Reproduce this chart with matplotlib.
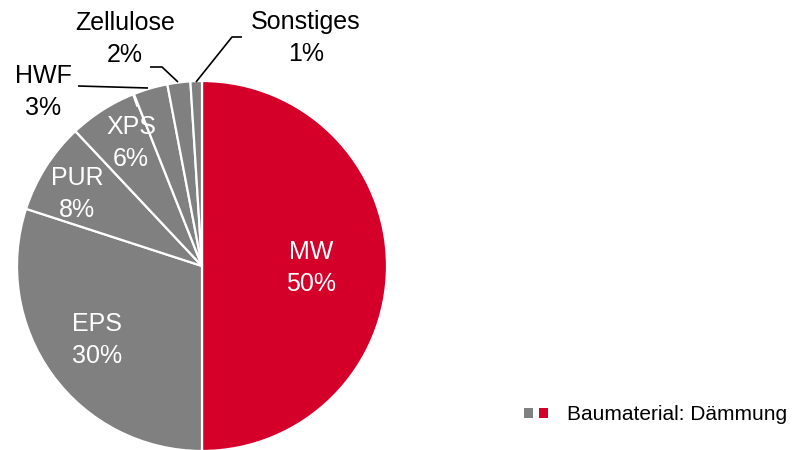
import matplotlib
matplotlib.use('Agg')
import matplotlib.pyplot as plt
from matplotlib.patches import Patch
from matplotlib.legend_handler import HandlerTuple

plt.rcParams['font.family'] = ['Liberation Sans', 'DejaVu Sans']

materials = ['MW', 'EPS', 'PUR', 'XPS', 'HWF', 'Zellulose', 'Sonstiges']
shares = [50, 30, 8, 6, 3, 2, 1]
series_name = 'Baumaterial: Dämmung'

RED = '#D50029'
GRAY = '#808080'
colors = [RED] + [GRAY] * (len(shares) - 1)

# label centres (pixel space, y downwards) and whether they sit inside the pie
label_pos = {
    'MW': (311, 268, True),
    'EPS': (97, 340, True),
    'PUR': (77, 194, True),
    'XPS': (131, 143, True),
    'HWF': (43, 92, False),
    'Zellulose': (125, 39, False),
    'Sonstiges': (306, 38, False),
}
leaders = {
    'HWF': [(78, 86), (148, 88)],
    'Zellulose': [(150, 67), (162, 67), (178, 82)],
    'Sonstiges': [(242, 37), (232, 37), (196, 82)],
}

fig = plt.figure(figsize=(8, 4.5), dpi=100)
ax = fig.add_axes([0, 0, 1, 1])

# y axis runs downwards, so counterclock=True draws clockwise on screen
ax.pie(shares, colors=colors, startangle=-90, counterclock=True,
       center=(202, 266), radius=185,
       wedgeprops=dict(edgecolor='white', linewidth=1.6))
ax.set_xlim(0, 800)
ax.set_ylim(450, 0)
ax.set_aspect('equal')
ax.axis('off')

for name, val in zip(materials, shares):
    x, y, inside = label_pos[name]
    ax.text(x, y, f'{name}\n{val}%', ha='center', va='center',
            fontsize=18, color='white' if inside else 'black',
            linespacing=1.45)

for name, pts in leaders.items():
    xs, ys = zip(*pts)
    ax.plot(xs, ys, color='black', linewidth=1.2, solid_capstyle='butt')
ax.plot([133, 137], [95, 106], color='white', linewidth=1.2)

handles = [(Patch(facecolor=GRAY), Patch(facecolor=RED))]
ax.legend(handles, [series_name],
          handler_map={tuple: HandlerTuple(ndivide=None, pad=0.3)},
          loc='center left', bbox_to_anchor=(524 / 800, 1 - 415 / 450),
          frameon=False, fontsize=15, borderpad=0, borderaxespad=0,
          handlelength=1.15, handleheight=0.4, handletextpad=0.9)

fig.savefig('out.png', dpi=100)
plt.close(fig)
